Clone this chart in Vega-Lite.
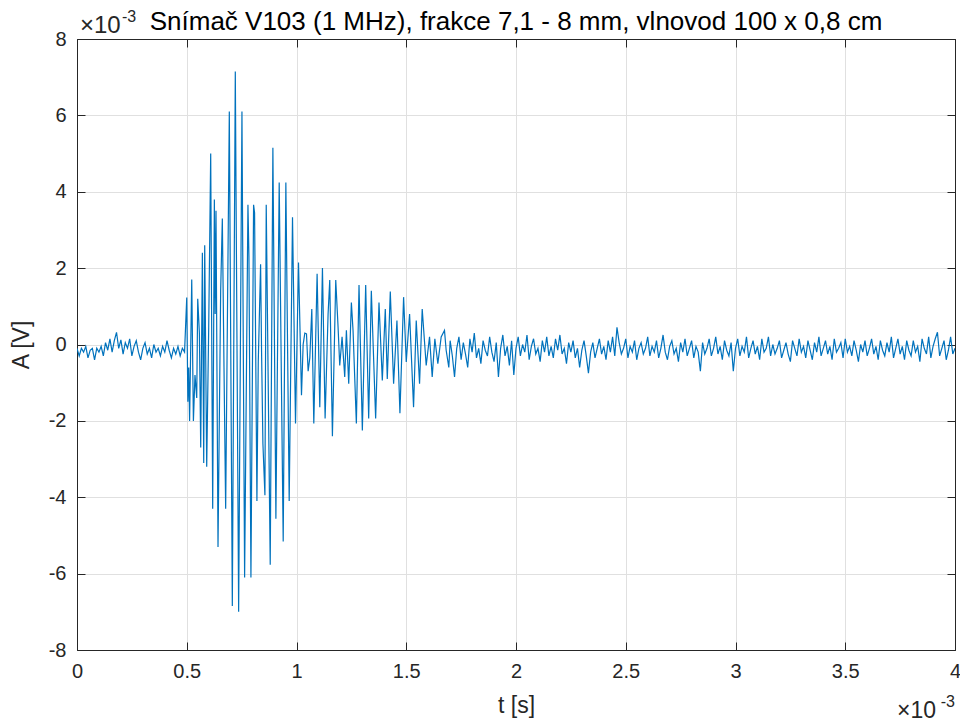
{
  "$schema": "https://vega.github.io/schema/vega-lite/v6.json",
  "width": 878,
  "height": 611,
  "autosize": {"type": "none"},
  "padding": {"left": 77, "top": 39, "right": 5, "bottom": 74},
  "background": "white",
  "config": {
    "view": {"stroke": "#262626", "strokeWidth": 1},
    "axis": {
      "labelFont": "Liberation Sans",
      "titleFont": "Liberation Sans",
      "labelFontSize": 20,
      "titleFontSize": 23,
      "titleFontWeight": "normal",
      "labelColor": "#262626",
      "titleColor": "#262626",
      "domainColor": "#262626",
      "tickColor": "#262626",
      "gridColor": "#e0e0e0",
      "gridOpacity": 1,
      "tickSize": -8
    }
  },
  "resolve": {"axis": {"x": "independent", "y": "independent"}},
  "layer": [
    {
      "data": {"values": [
        {"t":0.00,"a":-0.1},{"t":0.01,"a":-0.3},{"t":0.02,"a":-0.1},{"t":0.03,"a":-0.2},{"t":0.04,"a":-0.05},{"t":0.05,"a":-0.35},{"t":0.06,"a":-0.15},{"t":0.07,"a":-0.1},{"t":0.08,"a":-0.4},{"t":0.09,"a":-0.1},
        {"t":0.10,"a":-0.2},{"t":0.11,"a":-0.05},{"t":0.12,"a":-0.3},{"t":0.13,"a":0.05},{"t":0.14,"a":-0.15},{"t":0.15,"a":0.15},{"t":0.16,"a":-0.2},{"t":0.17,"a":0.1},{"t":0.18,"a":0.32},{"t":0.19,"a":-0.1},
        {"t":0.20,"a":0.12},{"t":0.21,"a":-0.25},{"t":0.22,"a":0.05},{"t":0.23,"a":-0.1},{"t":0.24,"a":0.15},{"t":0.25,"a":-0.3},{"t":0.26,"a":-0.05},{"t":0.27,"a":0.1},{"t":0.28,"a":-0.2},{"t":0.29,"a":-0.4},
        {"t":0.30,"a":-0.1},{"t":0.31,"a":0.05},{"t":0.32,"a":-0.25},{"t":0.33,"a":-0.1},{"t":0.34,"a":-0.35},{"t":0.35,"a":0.0},{"t":0.36,"a":-0.2},{"t":0.37,"a":-0.1},{"t":0.38,"a":-0.3},{"t":0.39,"a":-0.05},
        {"t":0.40,"a":-0.2},{"t":0.41,"a":0.1},{"t":0.42,"a":-0.15},{"t":0.43,"a":-0.35},{"t":0.44,"a":-0.1},{"t":0.45,"a":-0.25},{"t":0.46,"a":-0.05},{"t":0.47,"a":-0.3},{"t":0.48,"a":-0.1},{"t":0.49,"a":-0.2},
        {"t":0.5,"a":1.23},{"t":0.505,"a":-1.5},{"t":0.509,"a":-0.6},{"t":0.513,"a":-2.0},{"t":0.5227,"a":1.7},{"t":0.5303,"a":-2.0},{"t":0.5375,"a":-0.8},{"t":0.5455,"a":-1.4},{"t":0.55,"a":1.2},{"t":0.5576,"a":0.3},
        {"t":0.5636,"a":-2.7},{"t":0.5712,"a":2.4},{"t":0.5773,"a":-3.1},{"t":0.5818,"a":2.6},{"t":0.5909,"a":-3.2},{"t":0.6,"a":0.44},{"t":0.6091,"a":5.0},{"t":0.6182,"a":-4.3},{"t":0.6258,"a":3.8},{"t":0.6295,"a":0.8},
        {"t":0.6333,"a":3.5},{"t":0.6424,"a":-5.3},{"t":0.6545,"a":1.4},{"t":0.6621,"a":3.3},{"t":0.6697,"a":-0.6},{"t":0.6773,"a":-4.3},{"t":0.6939,"a":6.1},{"t":0.7076,"a":-6.85},{"t":0.7212,"a":7.15},{"t":0.7364,"a":-7.0},
        {"t":0.7515,"a":6.1},{"t":0.7636,"a":-6.1},{"t":0.7788,"a":3.66},{"t":0.7833,"a":2.3},{"t":0.7924,"a":-6.1},{"t":0.8045,"a":3.66},{"t":0.809,"a":3.45},{"t":0.8197,"a":-4.1},{"t":0.8258,"a":-0.45},{"t":0.8364,"a":2.1},
        {"t":0.8409,"a":-0.2},{"t":0.847,"a":-2.6},{"t":0.8561,"a":-3.95},{"t":0.8621,"a":3.66},{"t":0.8803,"a":-5.77},{"t":0.8924,"a":5.15},{"t":0.9061,"a":-4.56},{"t":0.9212,"a":4.24},{"t":0.9394,"a":-5.16},{"t":0.9515,"a":4.24},
        {"t":0.9667,"a":-4.1},{"t":0.9818,"a":3.33},{"t":0.9955,"a":-2.07},{"t":1.0091,"a":2.15},{"t":1.0227,"a":-1.33},{"t":1.0303,"a":0.0},{"t":1.0379,"a":0.3},{"t":1.0455,"a":0.28},{"t":1.053,"a":-0.7},{"t":1.0606,"a":-0.35},
        {"t":1.0697,"a":0.93},{"t":1.0788,"a":-2.07},{"t":1.0939,"a":1.85},{"t":1.1061,"a":-1.64},{"t":1.1182,"a":2.0},{"t":1.1303,"a":-1.94},{"t":1.1439,"a":0.8},{"t":1.1515,"a":1.69},{"t":1.1636,"a":-2.4},{"t":1.1788,"a":1.69},
        {"t":1.1894,"a":0.45},{"t":1.197,"a":-0.55},{"t":1.2076,"a":0.2},{"t":1.2197,"a":-0.85},{"t":1.2273,"a":0.37},{"t":1.2379,"a":-1.03},{"t":1.25,"a":1.1},{"t":1.2576,"a":0.37},{"t":1.2727,"a":-2.07},{"t":1.2848,"a":1.56},
        {"t":1.3,"a":-2.25},{"t":1.3152,"a":1.56},{"t":1.3288,"a":-1.94},{"t":1.3409,"a":1.41},{"t":1.3606,"a":-1.94},{"t":1.3758,"a":1.1},{"t":1.3909,"a":-0.94},{"t":1.4045,"a":0.93},{"t":1.4136,"a":-0.9},{"t":1.4273,"a":1.39},
        {"t":1.4424,"a":-1.03},{"t":1.4576,"a":0.63},{"t":1.4712,"a":-1.8},{"t":1.4879,"a":1.24},{"t":1.5,"a":-0.46},{"t":1.5152,"a":0.8},{"t":1.5333,"a":-1.64},{"t":1.5455,"a":0.63},{"t":1.5606,"a":-1.03},{"t":1.5727,"a":0.93},
        {"t":1.5909,"a":-0.55},{"t":1.6061,"a":0.2},{"t":1.6182,"a":-0.85},{"t":1.6303,"a":0.15},{"t":1.6439,"a":-0.5},{"t":1.6591,"a":0.2},{"t":1.6742,"a":0.37},{"t":1.6818,"a":-0.15},{"t":1.6939,"a":-0.6},
        {"t":1.70,"a":0.1},{"t":1.71,"a":-0.3},{"t":1.72,"a":-0.85},{"t":1.73,"a":-0.1},{"t":1.74,"a":0.2},{"t":1.75,"a":-0.4},{"t":1.76,"a":0.05},{"t":1.77,"a":-0.25},{"t":1.78,"a":-0.6},{"t":1.79,"a":0.15},
        {"t":1.80,"a":-0.2},{"t":1.81,"a":0.3},{"t":1.82,"a":-0.35},{"t":1.83,"a":-0.1},{"t":1.84,"a":-0.5},{"t":1.85,"a":0.1},{"t":1.86,"a":-0.15},{"t":1.87,"a":-0.3},{"t":1.88,"a":0.2},{"t":1.89,"a":-0.2},
        {"t":1.90,"a":-0.45},{"t":1.91,"a":0.05},{"t":1.92,"a":-0.85},{"t":1.93,"a":-0.1},{"t":1.94,"a":0.25},{"t":1.95,"a":-0.3},{"t":1.96,"a":-0.05},{"t":1.97,"a":-0.55},{"t":1.98,"a":0.1},{"t":1.99,"a":-0.8},
        {"t":2.00,"a":-0.1},{"t":2.01,"a":0.2},{"t":2.02,"a":-0.3},{"t":2.03,"a":0.0},{"t":2.04,"a":-0.2},{"t":2.05,"a":0.25},{"t":2.06,"a":-0.4},{"t":2.07,"a":-0.05},{"t":2.08,"a":0.15},{"t":2.09,"a":-0.25},
        {"t":2.10,"a":-0.1},{"t":2.11,"a":-0.45},{"t":2.12,"a":0.1},{"t":2.13,"a":-0.2},{"t":2.14,"a":0.2},{"t":2.15,"a":-0.3},{"t":2.16,"a":-0.05},{"t":2.17,"a":-0.35},{"t":2.18,"a":0.15},{"t":2.19,"a":-0.15},
        {"t":2.20,"a":0.25},{"t":2.21,"a":-0.25},{"t":2.22,"a":-0.1},{"t":2.23,"a":-0.5},{"t":2.24,"a":0.05},{"t":2.25,"a":-0.2},{"t":2.26,"a":0.1},{"t":2.27,"a":-0.35},{"t":2.28,"a":-0.1},{"t":2.29,"a":-0.6},
        {"t":2.30,"a":-0.15},{"t":2.31,"a":0.1},{"t":2.32,"a":-0.3},{"t":2.33,"a":-0.75},{"t":2.34,"a":-0.2},{"t":2.35,"a":0.05},{"t":2.36,"a":-0.35},{"t":2.37,"a":-0.1},{"t":2.38,"a":0.15},{"t":2.39,"a":-0.25},
        {"t":2.40,"a":-0.05},{"t":2.41,"a":-0.4},{"t":2.42,"a":0.1},{"t":2.43,"a":-0.2},{"t":2.44,"a":0.2},{"t":2.45,"a":-0.3},{"t":2.46,"a":0.45},{"t":2.47,"a":0.05},{"t":2.48,"a":-0.25},{"t":2.49,"a":-0.1},
        {"t":2.50,"a":0.15},{"t":2.51,"a":-0.35},{"t":2.52,"a":-0.05},{"t":2.53,"a":-0.2},{"t":2.54,"a":0.1},{"t":2.55,"a":-0.4},{"t":2.56,"a":-0.1},{"t":2.57,"a":0.05},{"t":2.58,"a":-0.25},{"t":2.59,"a":-0.1},
        {"t":2.60,"a":0.2},{"t":2.61,"a":-0.3},{"t":2.62,"a":-0.05},{"t":2.63,"a":-0.2},{"t":2.64,"a":0.1},{"t":2.65,"a":-0.35},{"t":2.66,"a":-0.1},{"t":2.67,"a":0.25},{"t":2.68,"a":-0.2},{"t":2.69,"a":-0.4},
        {"t":2.70,"a":-0.05},{"t":2.71,"a":0.1},{"t":2.72,"a":-0.25},{"t":2.73,"a":-0.1},{"t":2.74,"a":-0.45},{"t":2.75,"a":0.05},{"t":2.76,"a":-0.2},{"t":2.77,"a":0.15},{"t":2.78,"a":-0.3},{"t":2.79,"a":-0.1},
        {"t":2.80,"a":0.1},{"t":2.81,"a":-0.35},{"t":2.82,"a":-0.05},{"t":2.83,"a":-0.2},{"t":2.84,"a":-0.7},{"t":2.85,"a":0.05},{"t":2.86,"a":-0.25},{"t":2.87,"a":-0.1},{"t":2.88,"a":0.15},{"t":2.89,"a":-0.3},
        {"t":2.90,"a":-0.1},{"t":2.91,"a":0.2},{"t":2.92,"a":-0.25},{"t":2.93,"a":-0.05},{"t":2.94,"a":-0.4},{"t":2.95,"a":0.1},{"t":2.96,"a":-0.15},{"t":2.97,"a":-0.3},{"t":2.98,"a":0.05},{"t":2.99,"a":-0.7},
        {"t":3.00,"a":-0.1},{"t":3.01,"a":0.15},{"t":3.02,"a":-0.3},{"t":3.03,"a":-0.05},{"t":3.04,"a":-0.2},{"t":3.05,"a":0.2},{"t":3.06,"a":-0.35},{"t":3.07,"a":-0.1},{"t":3.08,"a":0.1},{"t":3.09,"a":-0.25},
        {"t":3.10,"a":-0.05},{"t":3.11,"a":-0.4},{"t":3.12,"a":0.15},{"t":3.13,"a":-0.2},{"t":3.14,"a":-0.1},{"t":3.15,"a":0.2},{"t":3.16,"a":-0.3},{"t":3.17,"a":0.0},{"t":3.18,"a":-0.25},{"t":3.19,"a":-0.1},
        {"t":3.20,"a":0.1},{"t":3.21,"a":-0.35},{"t":3.22,"a":-0.15},{"t":3.23,"a":0.05},{"t":3.24,"a":-0.25},{"t":3.25,"a":-0.45},{"t":3.26,"a":0.1},{"t":3.27,"a":-0.1},{"t":3.28,"a":-0.3},{"t":3.29,"a":0.15},
        {"t":3.30,"a":-0.2},{"t":3.31,"a":-0.05},{"t":3.32,"a":-0.35},{"t":3.33,"a":0.1},{"t":3.34,"a":-0.15},{"t":3.35,"a":-0.4},{"t":3.36,"a":0.05},{"t":3.37,"a":-0.2},{"t":3.38,"a":0.2},{"t":3.39,"a":-0.3},
        {"t":3.40,"a":-0.1},{"t":3.41,"a":0.1},{"t":3.42,"a":-0.25},{"t":3.43,"a":-0.05},{"t":3.44,"a":-0.4},{"t":3.45,"a":0.15},{"t":3.46,"a":-0.2},{"t":3.47,"a":-0.1},{"t":3.48,"a":0.05},{"t":3.49,"a":-0.35},
        {"t":3.50,"a":0.15},{"t":3.51,"a":-0.2},{"t":3.52,"a":-0.05},{"t":3.53,"a":-0.3},{"t":3.54,"a":0.1},{"t":3.55,"a":-0.15},{"t":3.56,"a":-0.45},{"t":3.57,"a":0.0},{"t":3.58,"a":-0.2},{"t":3.59,"a":0.1},
        {"t":3.60,"a":-0.3},{"t":3.61,"a":-0.1},{"t":3.62,"a":0.15},{"t":3.63,"a":-0.25},{"t":3.64,"a":-0.05},{"t":3.65,"a":-0.4},{"t":3.66,"a":0.1},{"t":3.67,"a":-0.15},{"t":3.68,"a":-0.3},{"t":3.69,"a":0.05},
        {"t":3.70,"a":-0.2},{"t":3.71,"a":0.2},{"t":3.72,"a":-0.35},{"t":3.73,"a":-0.1},{"t":3.74,"a":0.15},{"t":3.75,"a":-0.25},{"t":3.76,"a":-0.05},{"t":3.77,"a":-0.4},{"t":3.78,"a":0.1},{"t":3.79,"a":-0.15},
        {"t":3.80,"a":-0.3},{"t":3.81,"a":0.1},{"t":3.82,"a":-0.2},{"t":3.83,"a":-0.05},{"t":3.84,"a":-0.45},{"t":3.85,"a":0.15},{"t":3.86,"a":-0.1},{"t":3.87,"a":-0.25},{"t":3.88,"a":0.2},{"t":3.89,"a":-0.35},
        {"t":3.90,"a":-0.05},{"t":3.91,"a":0.15},{"t":3.92,"a":0.32},{"t":3.93,"a":-0.3},{"t":3.94,"a":-0.1},{"t":3.95,"a":0.1},{"t":3.96,"a":-0.4},{"t":3.97,"a":-0.15},{"t":3.98,"a":0.2},{"t":3.99,"a":-0.25},
        {"t":4.00,"a":-0.1}
      ]},
      "mark": {"type": "line", "color": "#0072BD", "strokeWidth": 1.2, "clip": true},
      "encoding": {
        "x": {
          "field": "t", "type": "quantitative",
          "scale": {"domain": [0, 4], "nice": false, "zero": false},
          "axis": {"values": [0, 0.5, 1, 1.5, 2, 2.5, 3, 3.5, 4], "labelExpr": "'' + datum.value", "title": "t [s]", "labelPadding": 19, "titlePadding": 13, "grid": true, "labelFlush": false, "labelOverlap": false}
        },
        "y": {
          "field": "a", "type": "quantitative",
          "scale": {"domain": [-8, 8], "nice": false, "zero": false},
          "axis": {"values": [-8, -6, -4, -2, 0, 2, 4, 6, 8], "labelExpr": "'' + datum.value", "title": "A [V]", "labelPadding": 19, "titlePadding": 15, "grid": true, "labelFlush": false, "labelOverlap": false}
        }
      }
    },
    {
      "data": {"values": [{}]},
      "mark": {"type": "point", "opacity": 0},
      "encoding": {
        "x": {"datum": 0, "type": "quantitative", "axis": {"orient": "top", "values": [0, 0.5, 1, 1.5, 2, 2.5, 3, 3.5, 4], "labels": false, "grid": false, "title": null}},
        "y": {"datum": 0, "type": "quantitative", "axis": {"orient": "right", "values": [-8, -6, -4, -2, 0, 2, 4, 6, 8], "labels": false, "grid": false, "title": null}}
      }
    },
    {
      "data": {"values": [{"s": "Snímač V103 (1 MHz), frakce 7,1 - 8 mm, vlnovod 100 x 0,8 cm"}]},
      "mark": {"type": "text", "align": "center", "baseline": "alphabetic", "font": "Liberation Sans", "fontSize": 26, "color": "#000000", "dy": -9},
      "encoding": {
        "x": {"datum": 2, "type": "quantitative", "axis": null},
        "y": {"datum": 8, "type": "quantitative", "axis": null},
        "text": {"field": "s"}
      }
    },
    {
      "data": {"values": [{"s": "×10"}]},
      "mark": {"type": "text", "align": "left", "baseline": "alphabetic", "font": "Liberation Sans", "fontSize": 24, "color": "#262626", "dx": 3, "dy": -6},
      "encoding": {
        "x": {"datum": 0, "type": "quantitative", "axis": null},
        "y": {"datum": 8, "type": "quantitative", "axis": null},
        "text": {"field": "s"}
      }
    },
    {
      "data": {"values": [{"s": "-3"}]},
      "mark": {"type": "text", "align": "left", "baseline": "alphabetic", "font": "Liberation Sans", "fontSize": 16, "color": "#262626", "dx": 45, "dy": -17},
      "encoding": {
        "x": {"datum": 0, "type": "quantitative", "axis": null},
        "y": {"datum": 8, "type": "quantitative", "axis": null},
        "text": {"field": "s"}
      }
    },
    {
      "data": {"values": [{"s": "×10"}]},
      "mark": {"type": "text", "align": "right", "baseline": "alphabetic", "font": "Liberation Sans", "fontSize": 23, "color": "#262626", "dx": -19, "dy": 68},
      "encoding": {
        "x": {"datum": 4, "type": "quantitative", "axis": null},
        "y": {"datum": -8, "type": "quantitative", "axis": null},
        "text": {"field": "s"}
      }
    },
    {
      "data": {"values": [{"s": "-3"}]},
      "mark": {"type": "text", "align": "right", "baseline": "alphabetic", "font": "Liberation Sans", "fontSize": 16, "color": "#262626", "dx": 0, "dy": 57},
      "encoding": {
        "x": {"datum": 4, "type": "quantitative", "axis": null},
        "y": {"datum": -8, "type": "quantitative", "axis": null},
        "text": {"field": "s"}
      }
    }
  ]
}
